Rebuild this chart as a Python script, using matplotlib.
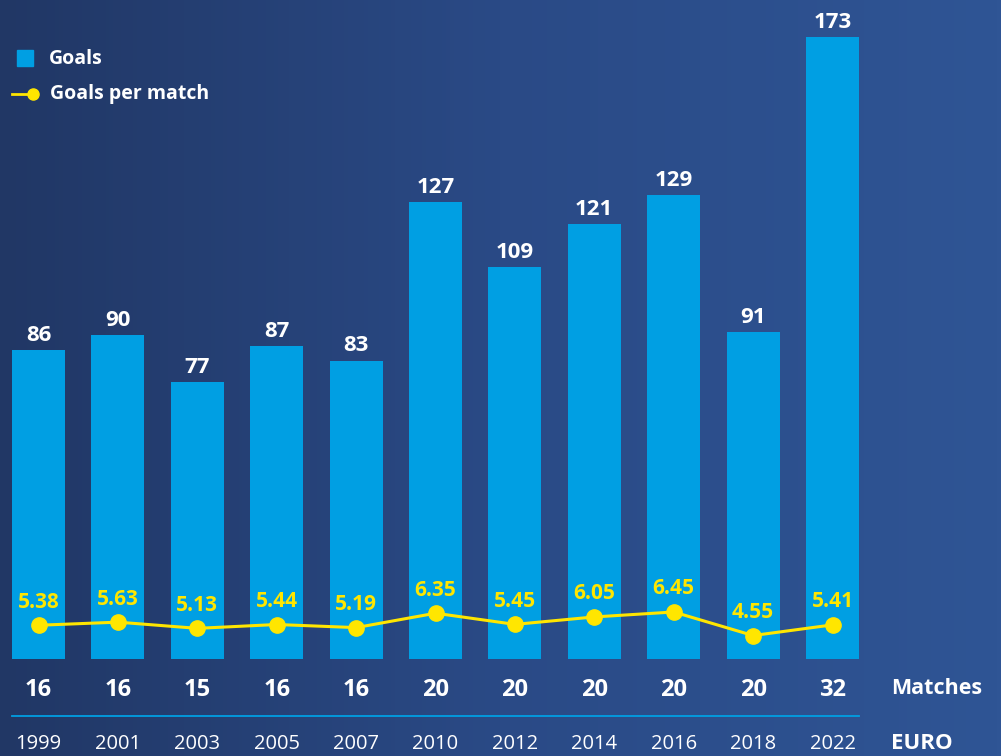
import numpy as np
import matplotlib.pyplot as plt
from matplotlib.colors import LinearSegmentedColormap
from matplotlib.lines import Line2D
from matplotlib.patches import Rectangle

years = ["1999", "2001", "2003", "2005", "2007", "2010", "2012", "2014", "2016", "2018", "2022"]
goals = [86, 90, 77, 87, 83, 127, 109, 121, 129, 91, 173]
matches = [16, 16, 15, 16, 16, 20, 20, 20, 20, 20, 32]
goals_per_match = [5.38, 5.63, 5.13, 5.44, 5.19, 6.35, 5.45, 6.05, 6.45, 4.55, 5.41]

plt.rcParams['font.family'] = ['Open Sans', 'DejaVu Sans']

BAR = "#009fe3"
YEL = "#ffe600"
W, H = 1001, 756

fig = plt.figure(figsize=(10.01, 7.56), dpi=100)

# background gradient
bg = fig.add_axes([0, 0, 1, 1], zorder=-1)
grad = np.linspace(0, 1, 256).reshape(1, -1)
cmap = LinearSegmentedColormap.from_list("bg", ["#213765", "#2a4a86", "#2f5595"])
bg.imshow(grad, aspect="auto", cmap=cmap, extent=[0, 1, 0, 1])
bg.axis("off")

x = np.arange(len(years))
ax = fig.add_axes([0, 0, 1, 1])
ax.patch.set_alpha(0)
ax.set_xlim(-38.5 / 79.4, (W - 38.5) / 79.4)
ax.set_ylim(-97 / 3.595, (H - 97) / 3.595)
ax.axis("off")

ax.bar(x, goals, width=0.667, color=BAR, zorder=2)
for xi, g in zip(x, goals):
    ax.annotate(str(g), (xi, g), xytext=(0, 3), textcoords="offset points",
                ha="center", va="bottom", color="white", fontsize=16, fontweight="bold")

ax2 = ax.twinx()
ax2.set_ylim(5.4 - 131 / 12.4, 5.4 + 625 / 12.4)
ax2.axis("off")
ax2.plot(x, goals_per_match, color=YEL, lw=2.2, marker="o", ms=11, zorder=3)
for xi, v in zip(x, goals_per_match):
    ax2.annotate(f"{v:.2f}", (xi, v), xytext=(0, 9), textcoords="offset points",
                 ha="center", va="bottom", color=YEL, fontsize=15, fontweight="bold")

tr = ax.get_xaxis_transform()
for xi, m, yr in zip(x, matches, years):
    ax.text(xi, 0.0873, str(m), transform=tr, ha="center", va="center",
            color="white", fontsize=17, fontweight="bold")
    ax.text(xi, 0.0159, yr, transform=tr, ha="center", va="center",
            color="white", fontsize=14.5)
ax.plot([-0.333, 10.333], [0.0529, 0.0529], transform=tr, color=BAR, lw=1.3)
ax.text(891 / W, 0.0899, "Matches", transform=fig.transFigure, ha="left", va="center",
        color="white", fontsize=15.5, fontweight="bold")
ax.text(891 / W, 0.0159, "EURO", transform=fig.transFigure, ha="left", va="center",
        color="white", fontsize=16, fontweight="bold")

# legend
fig.patches.append(Rectangle((17 / W, 1 - 66 / H), 16 / W, 16 / H, color=BAR,
                             transform=fig.transFigure))
fig.lines.append(Line2D([12 / W, 33 / W], [1 - 94 / H] * 2, color=YEL, lw=2,
                        transform=fig.transFigure))
fig.lines.append(Line2D([33 / W], [1 - 94 / H], color=YEL, marker="o", ms=8,
                        transform=fig.transFigure))
fig.text(49 / W, 1 - 59 / H, "Goals", ha="left", va="center", color="white",
         fontsize=14, fontweight="bold")
fig.text(50 / W, 1 - 94 / H, "Goals per match", ha="left", va="center", color="white",
         fontsize=14, fontweight="bold")

plt.savefig("out.png", dpi=100)
plt.close()
